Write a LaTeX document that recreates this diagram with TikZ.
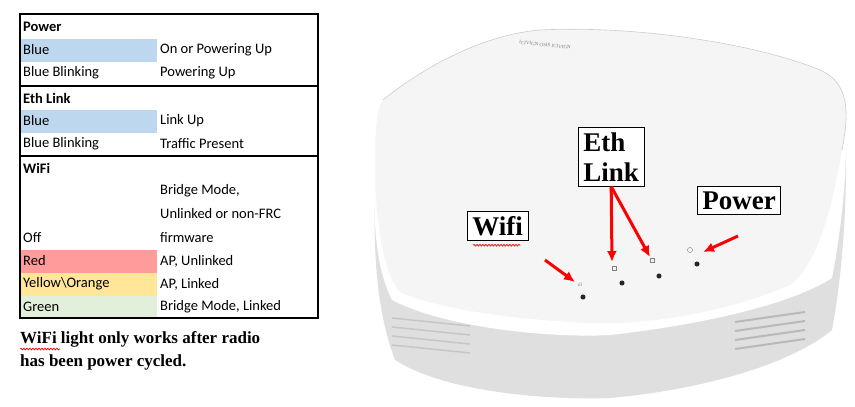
\documentclass[tikz,border=0pt]{standalone}
\usepackage{fontspec}
\setmainfont{Liberation Serif}
\newfontfamily\tabfont{Carlito}
\usetikzlibrary{decorations.pathmorphing,arrows.meta}
\definecolor{tblue}{HTML}{BDD7EE}
\definecolor{tred}{HTML}{FF9B9B}
\definecolor{tyel}{HTML}{FFE699}
\definecolor{tgrn}{HTML}{E2EFDA}
\begin{document}
\begin{tikzpicture}[x=1pt,y=-1pt,
  cell/.style={anchor=west,font=\tabfont\fontsize{14.5}{15}\selectfont,inner sep=0pt},
  hdr/.style={cell,font=\tabfont\bfseries\fontsize{14.5}{15}\selectfont},
  lbl/.style={draw=black,line width=0.8pt,fill=white,font=\bfseries\fontsize{27}{30}\selectfont,align=left,inner sep=5pt},
  arr/.style={red,line width=3pt,-{Latex[length=11pt,width=10pt]}},
  led/.style={circle,fill=black!85,inner sep=1.8pt},
  note/.style={anchor=west,font=\bfseries\fontsize{17}{18}\selectfont,inner sep=0pt}]
\useasboundingbox (0,0) rectangle (855,407);
% table fills
\fill[tblue] (20,39) rectangle (157,62);
\fill[tblue] (20,110) rectangle (157,133);
\fill[tred] (20,250) rectangle (157,273);
\fill[tyel] (20,273) rectangle (157,296);
\fill[tgrn] (20,296) rectangle (157,318);
\draw[line width=1.2pt] (20,14) rectangle (318,318);
\draw[line width=1.2pt] (20,86) -- (318,86) (20,156) -- (318,156);
\node[hdr] (t1) at (23,27) {Power};
\node[cell] (t2) at (23,50) {Blue};
\node[cell] (t3) at (160,50) {On or Powering Up};
\node[cell] (t4) at (23,73) {Blue Blinking};
\node[cell] (t5) at (160,73) {Powering Up};
\node[hdr] (t6) at (23,98) {Eth Link};
\node[cell] (t7) at (23,121) {Blue};
\node[cell] (t8) at (160,121) {Link Up};
\node[cell] (t9) at (23,144) {Blue Blinking};
\node[cell] (t10) at (160,144) {Traffic Present};
\node[hdr] (t11) at (23,168) {WiFi};
\node[cell] (t12) at (160,191) {Bridge Mode,};
\node[cell] (t13) at (160,214) {Unlinked or non-FRC};
\node[cell] (t14) at (23,238) {Off};
\node[cell] (t15) at (160,238) {firmware};
\node[cell] (t16) at (23,261) {Red};
\node[cell] (t17) at (160,261) {AP, Unlinked};
\node[cell] (t18) at (23,284) {Yellow\textbackslash Orange};
\node[cell] (t19) at (160,284) {AP, Linked};
\node[cell] (t20) at (23,307) {Green};
\node[cell] (t21) at (160,307) {Bridge Mode, Linked};
\node[note] (n1) at (20,339) {WiFi light only works after radio};
\node[note] (n2) at (20,362) {has been power cycled.};
\draw[red,line width=0.7pt,decorate,decoration={snake,amplitude=0.9pt,segment length=3pt}] (20,349) -- (60,349);
% device body
\fill[gray!25] (378,140) .. controls (372,220) and (372,300) .. (395,360)
  .. controls (450,395) and (560,400) .. (610,398)
  .. controls (700,390) and (790,365) .. (832,330)
  .. controls (845,260) and (848,180) .. (845,110) -- cycle;
\fill[white] (378,140) .. controls (372,200) and (372,260) .. (392,300)
  .. controls (450,330) and (560,338) .. (610,335)
  .. controls (700,325) and (790,305) .. (832,278)
  .. controls (845,210) and (848,150) .. (845,110) -- cycle;
\fill[gray!8] (383,100) .. controls (420,70) and (480,35) .. (540,30)
  .. controls (640,25) and (760,45) .. (820,70)
  .. controls (848,82) and (850,110) .. (842,150)
  .. controls (830,220) and (815,265) .. (790,285)
  .. controls (720,315) and (640,325) .. (590,323)
  .. controls (520,320) and (440,310) .. (400,292)
  .. controls (378,270) and (372,180) .. (376,130)
  .. controls (377,115) and (379,105) .. (383,100) -- cycle;
\draw[gray!40,line width=0.6pt] (383,100) .. controls (420,70) and (480,35) .. (540,30)
  .. controls (640,25) and (760,45) .. (820,70)
  .. controls (848,82) and (850,110) .. (842,150);
\foreach \y in {318,327,336,345}{
  \draw[gray!55,line width=2pt] (735,\y+4) -- (805,\y-6);
  \draw[gray!45,line width=1.5pt] (392,\y) -- (470,\y+8);}
\node[font=\tiny,text=gray,rotate=-6] (lg) at (545,45) {ICIVIGN OSIS ICIVIGN};
% LEDs
\node[led] (l1) at (583,297) {};
\node[led] (l2) at (622,283) {};
\node[led] (l3) at (659,276) {};
\node[led] (l4) at (697,264) {};
\node[font=\tiny,text=gray] (i1) at (580,285) {ıll};
\node[draw=gray,inner sep=1.8pt] (i2) at (614,268) {};
\node[draw=gray,inner sep=1.8pt] (i3) at (652,260) {};
\node[draw=gray,circle,inner sep=1.8pt] (i4) at (690,250) {};
% labels
\node[lbl,anchor=north west] (eth) at (578,127) {Eth\\Link};
\node[lbl,anchor=north west] (wifi) at (467,211) {Wifi};
\node[lbl,anchor=north west] (pow) at (697,186) {Power};
\draw[arr] (545,260) -- (575,282);
\draw[arr] (eth.south) -- (612,262);
\draw[arr] (eth.south) -- (650,257);
\draw[arr] (738,236) -- (703,252);
\draw[red,line width=0.7pt,decorate,decoration={snake,amplitude=0.9pt,segment length=3pt}] ([xshift=6pt,yshift=-4pt]wifi.south west) -- ([xshift=-8pt,yshift=-4pt]wifi.south east);
\end{tikzpicture}
\end{document}
